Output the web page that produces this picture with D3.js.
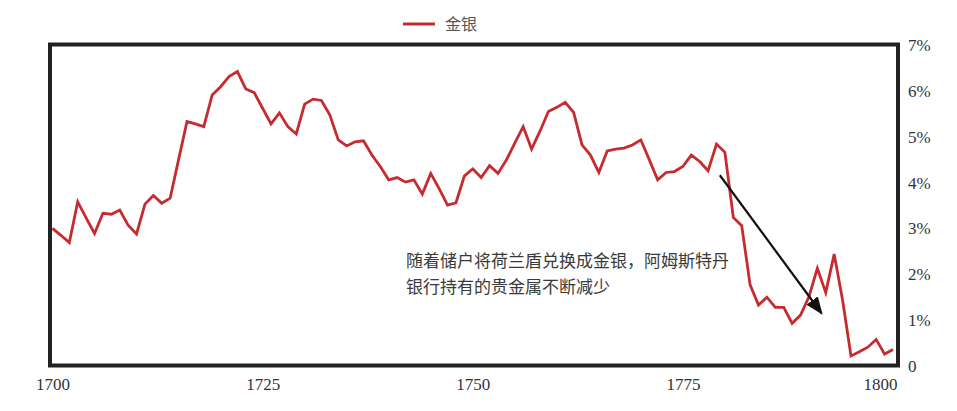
<!DOCTYPE html>
<html lang="zh">
<head>
<meta charset="UTF-8">
<title>金银</title>
<script src="https://d3js.org/d3.v7.min.js"></script>
<style>
  body { margin: 0; background: #fff; }
  svg { display: block; }
  .note { font-family: "Noto Sans CJK SC", sans-serif; font-size: 17px; fill: #3a3a3a; }
  .legend { font-family: "Noto Sans CJK SC", sans-serif; font-size: 16px; fill: #555; }
</style>
</head>
<body>
<svg width="957" height="411"></svg>
<script>
// years and share of gold/silver (%)
const years = [
  1700,1701,1702,1703,1704,1705,1706,1707,1708,1709,
  1710,1711,1712,1713,1714,1715,1716,1717,1718,1719,
  1720,1721,1722,1723,1724,1725,1726,1727,1728,1729,
  1730,1731,1732,1733,1734,1735,1736,1737,1738,1739,
  1740,1741,1742,1743,1744,1745,1746,1747,1748,1749,
  1750,1751,1752,1753,1754,1755,1756,1757,1758,1759,
  1760,1761,1762,1763,1764,1765,1766,1767,1768,1769,
  1770,1771,1772,1773,1774,1775,1776,1777,1778,1779,
  1780,1781,1782,1783,1784,1785,1786,1787,1788,1789,
  1790,1791,1792,1793,1794,1795,1796,1797,1798,1799,
  1800
];
const goldSilver = [
  3.00,2.85,2.69,3.58,3.23,2.89,3.33,3.31,3.40,3.07,
  2.88,3.53,3.72,3.55,3.66,4.50,5.33,5.28,5.22,5.91,
  6.09,6.31,6.42,6.04,5.96,5.62,5.28,5.52,5.22,5.06,
  5.71,5.82,5.79,5.47,4.93,4.80,4.89,4.91,4.60,4.35,
  4.06,4.11,4.01,4.06,3.75,4.20,3.87,3.51,3.56,4.14,
  4.30,4.11,4.37,4.20,4.49,4.86,5.22,4.73,5.12,5.55,
  5.64,5.75,5.53,4.82,4.60,4.22,4.69,4.73,4.75,4.82,
  4.93,4.50,4.06,4.22,4.24,4.35,4.60,4.46,4.26,4.84,
  4.66,3.24,3.06,1.77,1.33,1.50,1.28,1.28,0.93,1.11,
  1.51,2.13,1.60,2.44,1.44,0.22,0.31,0.41,0.58,0.26,
  0.36
];
const xTicks = [1700, 1725, 1750, 1775, 1800];
const yTicks = [0, 1, 2, 3, 4, 5, 6, 7];
const seriesName = "金银";
const noteLines = ["随着储户将荷兰盾兑换成金银，阿姆斯特丹", "银行持有的贵金属不断减少"];
// arrow from / to, in data units
const arrowFrom = [1779.4, 4.16];
const arrowTo = [1791.5, 1.15];

const svg = d3.select("svg");
const red = "#c62b30";
const serif = "'Liberation Serif', 'Times New Roman', serif";

const x = d3.scaleLinear().domain([1700, 1800]).range([52.5, 893]);
const y = d3.scaleLinear().domain([0, 7]).range([366, 45]);

const data = years.map((yr, i) => ({ year: yr, value: goldSilver[i] }));

// arrowhead
svg.append("defs").append("marker")
    .attr("id", "head")
    .attr("viewBox", "0 0 10 8")
    .attr("refX", 9).attr("refY", 4)
    .attr("markerWidth", 8).attr("markerHeight", 6.4)
    .attr("markerUnits", "strokeWidth")
    .attr("orient", "auto")
    .append("path")
    .attr("d", "M0,0 L10,4 L0,8 z")
    .attr("fill", "#111");

// line
const line = d3.line().x(d => x(d.year)).y(d => y(d.value));
svg.append("path")
    .datum(data)
    .attr("d", line)
    .attr("fill", "none")
    .attr("stroke", red)
    .attr("stroke-width", 2.8)
    .attr("stroke-linejoin", "miter");

// annotation arrow
svg.append("line")
    .attr("x1", x(arrowFrom[0])).attr("y1", y(arrowFrom[1]))
    .attr("x2", x(arrowTo[0])).attr("y2", y(arrowTo[1]))
    .attr("stroke", "#111")
    .attr("stroke-width", 2.2)
    .attr("marker-end", "url(#head)");

// frame
svg.append("rect")
    .attr("x", 50).attr("y", 44.5)
    .attr("width", 848).attr("height", 321)
    .attr("fill", "none")
    .attr("stroke", "#222")
    .attr("stroke-width", 4);

// axes
const xAxis = svg.append("g")
    .attr("transform", "translate(0,366)")
    .call(d3.axisBottom(x).tickValues(xTicks).tickSize(0).tickPadding(12).tickFormat(d3.format("d")));
xAxis.select(".domain").remove();
xAxis.selectAll(".tick").filter(d => d === 1800).select("text")
    .attr("text-anchor", "end").attr("x", 4);

const yAxis = svg.append("g")
    .attr("transform", "translate(898,0)")
    .call(d3.axisRight(y).tickValues(yTicks).tickSize(0).tickPadding(10)
        .tickFormat(d => d === 0 ? "0" : d + "%"));
yAxis.select(".domain").remove();

svg.selectAll(".tick text")
    .style("font-family", serif)
    .style("font-size", "17px")
    .style("fill", "#333");

// note
const note = svg.append("text").attr("class", "note")
    .attr("x", 406).attr("y", 267);
noteLines.forEach((t, i) => {
    note.append("tspan").attr("x", 406).attr("dy", i === 0 ? 0 : 26).text(t);
});

// legend
svg.append("line")
    .attr("x1", 403).attr("x2", 435)
    .attr("y1", 24).attr("y2", 24)
    .attr("stroke", red).attr("stroke-width", 3);
svg.append("text").attr("class", "legend")
    .attr("x", 445).attr("y", 30)
    .text(seriesName);
</script>
</body>
</html>
